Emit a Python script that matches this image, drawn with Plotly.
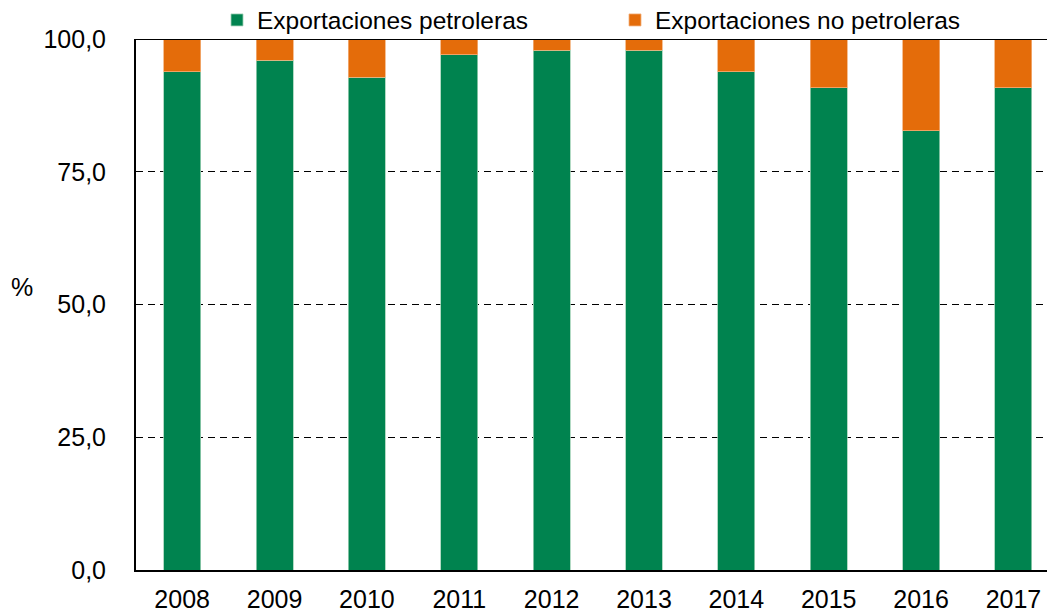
import plotly.graph_objects as go

years = ["2008", "2009", "2010", "2011", "2012", "2013", "2014", "2015", "2016", "2017"]
petroleras = [93.8, 96.0, 92.8, 97.0, 97.9, 97.9, 93.8, 90.8, 82.7, 90.8]
no_petroleras = [round(100 - v, 1) for v in petroleras]
y_ticks = [0, 25, 50, 75, 100]

# page has an 8px body margin; the figure is sized so it fills the window exactly
W, H = 1047, 605
L, T, B = 128, 31, 43
PW = W - L

fig = go.Figure()
fig.add_trace(go.Bar(x=years, y=petroleras, name="Exportaciones petroleras", legend="legend",
                     marker=dict(color="#00834F", line=dict(color="#9fd1b5", width=0.8))))
fig.add_trace(go.Bar(x=years, y=no_petroleras, name="Exportaciones no petroleras", legend="legend2",
                     marker=dict(color="#E46C0A", line=dict(color="#f3b07a", width=0.8))))

leg_common = dict(orientation="h", xref="container", yref="container",
                  y=1 - 12 / H, xanchor="left", yanchor="middle",
                  font=dict(size=24.5), itemwidth=30, bgcolor="rgba(0,0,0,0)")
fig.update_layout(
    barmode="stack",
    bargap=0.6,
    width=W, height=H,
    margin=dict(l=L, r=0, t=T, b=B, autoexpand=False),
    plot_bgcolor="white", paper_bgcolor="white",
    separators=",.",
    font=dict(family="Liberation Sans, Arial", size=25, color="black"),
    showlegend=True,
    legend=dict(x=209 / W, **leg_common),
    legend2=dict(x=607 / W, **leg_common),
    xaxis=dict(range=[-0.5, 9.45], showline=True, linecolor="black", linewidth=2,
               ticks="", tickfont=dict(size=25), showgrid=False, ticklabelstandoff=6),
    yaxis=dict(range=[0, 100], tickvals=y_ticks, tickformat=".1f",
               showline=True, linecolor="black", linewidth=2, mirror=False,
               gridcolor="black", griddash="7px,5px", gridwidth=1,
               ticks="", ticklen=0, tickfont=dict(size=25), ticklabelstandoff=23),
    annotations=[dict(text="%", xref="paper", yref="paper", x=(14 - L) / PW, y=0.533,
                      xanchor="center", yanchor="middle", showarrow=False,
                      font=dict(size=25))],
)
fig.add_shape(type="line", xref="paper", yref="y", x0=0, x1=1, y0=100, y1=100,
              line=dict(color="black", width=2))
fig.write_html("out.html")
